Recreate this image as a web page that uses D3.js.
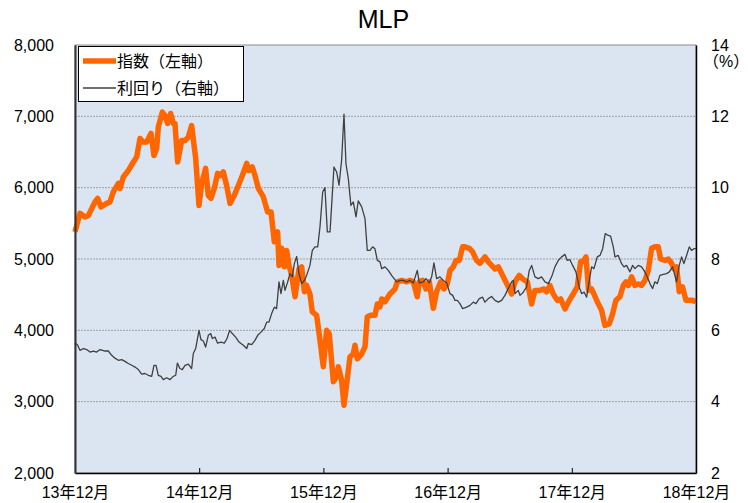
<!DOCTYPE html>
<html>
<head>
<meta charset="utf-8">
<script src="https://cdn.jsdelivr.net/npm/d3@7"></script>
<style>
body { margin: 0; background: #fff; }
text { font-family: "Liberation Sans", Arial, "Noto Sans CJK JP", sans-serif; fill: #000; }
</style>
</head>
<body>
<div id="chart"></div>
<script>
// 月数は13年12月からの経過月
var xTicks = [0, 12, 24, 36, 48, 60]
var xLabels = ['13年12月', '14年12月', '15年12月', '16年12月', '17年12月', '18年12月']
var leftTicks = [2000, 3000, 4000, 5000, 6000, 7000, 8000]
var rightTicks = [2, 4, 6, 8, 10, 12, 14]
var seriesNames = ['指数（左軸）', '利回り（右軸）']

// 指数（左軸）
var idxMonth = [0, 0.48, 0.97, 1.29, 1.93, 2.19, 2.51, 3.06, 3.38, 3.70, 4.19, 4.35, 4.67, 5.15, 5.64, 5.96,
	6.28, 6.60, 6.92, 7.34, 7.63, 7.89, 8.05, 8.44, 8.70, 8.95, 9.24, 9.50, 9.66, 9.92, 10.31, 10.63, 10.95,
	11.27, 11.66, 11.98, 12.24, 12.62, 12.88, 13.14, 13.46, 13.78, 14.01, 14.33, 14.65, 14.98, 15.39, 15.78,
	16.17, 16.59, 16.81, 17.13, 17.39, 17.71, 18.20, 18.61, 18.94, 19.26, 19.58, 19.71, 19.97, 20.22, 20.45,
	20.68, 20.93, 21.26, 21.64, 21.90, 22.16, 22.38, 22.70, 22.93, 23.35, 23.67, 23.99, 24.31, 24.57, 24.96,
	25.28, 25.44, 25.76, 25.99, 26.25, 26.57, 26.89, 27.05, 27.28, 27.70, 28.02, 28.24, 28.56, 28.98, 29.21,
	29.47, 29.63, 29.95, 30.43, 30.92, 31.14, 31.56, 32.04, 32.36, 32.69, 33.07, 33.27, 33.59, 33.91, 34.23,
	34.62, 34.94, 35.33, 35.65, 35.97, 36.23, 36.55, 36.81, 37.13, 37.45, 37.68, 38.10, 38.42, 38.80, 39.13,
	39.61, 39.93, 40.25, 40.58, 40.90, 41.38, 41.86, 42.19, 42.51, 42.93, 43.25, 43.70, 44.12, 44.44, 44.92,
	45.31, 45.57, 45.89, 46.21, 46.60, 46.92, 47.34, 47.76, 48.14, 48.53, 48.85, 49.17, 49.37, 49.62, 49.91,
	50.14, 50.46, 50.88, 51.20, 51.62, 51.94, 52.26, 52.65, 52.97, 53.23, 53.46, 53.78, 54.10, 54.42, 54.74,
	55.07, 55.39, 55.71, 56.03, 56.35, 56.58, 57.00, 57.32, 57.64, 57.87, 58.12, 58.38, 58.70, 59.03, 59.35,
	59.67, 59.99]
var idxValue = [5380, 5640, 5590, 5610, 5800, 5850, 5730, 5780, 5800, 5940, 6060, 5990, 6150, 6240, 6360, 6430,
	6690, 6640, 6640, 6760, 6450, 6550, 6850, 7060, 7010, 6900, 7040, 6900, 6900, 6360, 6660, 6660, 6710,
	6870, 6410, 5750, 6060, 6270, 5890, 5850, 5990, 6200, 6170, 6220, 6030, 5780, 5890, 6030,
	6170, 6340, 6240, 6290, 6170, 5990, 5870, 5660, 5660, 5240, 5380, 4910, 5150, 4890, 5120,
	4910, 4770, 4470, 4860, 4890, 4540, 4630, 4510, 4260, 4210, 3860, 3490, 4000, 3950, 3280,
	3350, 3490, 3300, 2950, 3250, 3630, 3670, 3790, 3600, 3670, 3770, 4190, 4210, 4210, 4370,
	4330, 4440, 4400, 4510, 4580, 4680, 4700, 4680, 4700, 4680, 4470, 4680, 4700, 4580, 4680,
	4310, 4540, 4680, 4580, 4650, 4840, 4890, 4980, 4980, 5170, 5170, 5150, 5100, 4980, 4940,
	5030, 4960, 4910, 4860, 4890, 4750, 4610, 4510, 4680, 4770, 4720, 4680, 4370, 4560, 4560,
	4580, 4540, 4630, 4510, 4420, 4440, 4300, 4420, 4510, 4610, 4960, 4980, 5030, 4560, 4580,
	4510, 4400, 4280, 4070, 4090, 4230, 4420, 4470, 4630, 4680, 4630, 4750, 4630, 4650, 4630,
	4700, 4840, 5150, 5170, 5170, 5000, 4980, 5000, 4940, 4860, 4890, 4540, 4610, 4420, 4420,
	4420, 4400]

// 利回り（右軸）
var yldMonth = [0, 0.26, 0.48, 0.81, 1.13, 1.45, 1.77, 2.09, 2.42, 2.90, 3.22, 3.54, 3.86, 4.19, 4.51, 4.83,
	5.15, 5.48, 5.80, 6.12, 6.44, 6.76, 7.09, 7.41, 7.63, 7.83, 8.05, 8.31, 8.53, 8.86, 9.18, 9.50, 9.73,
	9.89, 10.14, 10.37, 10.63, 10.95, 11.27, 11.43, 11.66, 11.98, 12.17, 12.40, 12.62, 12.88, 13.11, 13.27,
	13.53, 13.78, 14.11, 14.43, 14.69, 14.94, 15.20, 15.52, 15.85, 16.26, 16.59, 16.75, 17.07, 17.39, 17.65,
	17.97, 18.29, 18.52, 18.74, 19.00, 19.26, 19.48, 19.71, 19.90, 20.13, 20.29, 20.55, 20.77, 21.00, 21.19,
	21.42, 21.64, 21.90, 22.16, 22.38, 22.70, 22.93, 23.19, 23.45, 23.67, 23.93, 24.15, 24.38, 24.64, 25.02,
	25.28, 25.51, 25.76, 25.99, 26.18, 26.41, 26.66, 26.89, 27.15, 27.37, 27.70, 28.02, 28.24, 28.50, 28.76,
	28.98, 29.21, 29.47, 29.63, 29.95, 30.27, 30.59, 31.08, 31.40, 31.72, 32.04, 32.36, 32.69, 33.07, 33.27,
	33.65, 33.91, 34.23, 34.46, 34.68, 34.94, 35.26, 35.58, 35.91, 36.23, 36.49, 36.71, 36.94, 37.19, 37.45,
	37.84, 38.16, 38.48, 38.74, 39.06, 39.38, 39.61, 39.93, 40.25, 40.58, 40.90, 41.22, 41.54, 41.86, 42.19,
	42.35, 42.51, 42.83, 42.99, 43.31, 43.63, 43.89, 44.12, 44.44, 44.76, 45.08, 45.41, 45.73, 46.05, 46.37,
	46.69, 47.02, 47.34, 47.56, 47.82, 48.08, 48.40, 48.72, 48.95, 49.20, 49.43, 49.69, 49.91, 50.14, 50.46,
	50.72, 50.98, 51.23, 51.52, 51.75, 52.01, 52.17, 52.49, 52.81, 53.04, 53.29, 53.62, 53.87, 54.10, 54.42,
	54.74, 54.97, 55.23, 55.55, 55.81, 56.03, 56.26, 56.51, 56.84, 57.16, 57.42, 57.74, 57.96, 58.12, 58.38,
	58.61, 58.83, 59.09, 59.35, 59.57, 59.80, 59.99]
var yldValue = [5.65, 5.58, 5.44, 5.49, 5.46, 5.39, 5.42, 5.39, 5.46, 5.42, 5.42, 5.30, 5.22, 5.16, 5.18, 5.13,
	5.07, 5.02, 4.97, 4.90, 4.77, 4.79, 4.74, 4.71, 5.02, 5.02, 4.74, 4.71, 4.62, 4.67, 4.62, 4.71, 4.74,
	5.08, 4.93, 4.90, 5.02, 5.05, 4.93, 5.35, 5.49, 6.00, 5.74, 5.70, 5.53, 5.86, 5.91, 5.77,
	5.81, 5.64, 5.67, 5.64, 5.77, 6.00, 5.91, 5.81, 5.67, 5.58, 5.49, 5.63, 5.60, 5.72, 5.86,
	5.95, 6.05, 6.23, 6.23, 6.47, 6.65, 6.61, 7.36, 7.03, 7.40, 7.12, 7.36, 7.59, 7.50, 7.87,
	8.07, 7.59, 7.31, 7.40, 7.54, 7.82, 8.24, 8.34, 8.34, 8.90, 9.88, 10.00, 8.76, 8.76, 10.58,
	10.44, 10.07, 10.77, 12.06, 10.67, 10.25, 9.50, 9.60, 9.18, 9.63, 9.46, 9.13, 8.24, 8.24, 8.34,
	8.29, 7.96, 7.92, 7.73, 7.78, 7.68, 7.54, 7.36, 7.40, 7.40, 7.36, 7.40, 7.33, 7.68, 7.33,
	7.36, 7.45, 7.33, 7.50, 7.89, 7.45, 7.50, 7.40, 7.33, 7.03, 6.98, 6.84, 6.84, 6.75, 6.61,
	6.65, 6.70, 6.79, 6.75, 6.89, 6.93, 6.79, 6.89, 6.95, 6.84, 6.79, 6.84, 6.98, 7.17, 7.36,
	7.40, 7.03, 7.12, 6.98, 7.07, 7.21, 7.68, 7.82, 7.50, 7.45, 7.50, 7.36, 7.31, 7.50, 7.78,
	7.96, 8.06, 8.13, 7.96, 7.98, 7.82, 7.64, 7.21, 7.03, 7.07, 6.93, 7.40, 7.78, 7.73, 8.06,
	8.10, 8.29, 8.71, 8.66, 8.64, 8.34, 8.06, 8.10, 7.87, 7.78, 7.82, 7.64, 7.82, 7.73, 7.82,
	7.78, 7.68, 7.54, 7.31, 7.17, 7.36, 7.31, 7.54, 7.57, 7.59, 7.64, 7.78, 7.54, 7.36, 7.82,
	8.06, 7.87, 8.10, 8.34, 8.24, 8.29, 8.29]

var width = 748
var height = 503
var plotL = 75, plotR = 696, plotT = 45, plotB = 473

var svg = d3.select('#chart')
	.append('svg')
		.attr('width', width)
		.attr('height', height)

var x = d3.scaleLinear().domain([0, 60]).range([plotL, plotR])
var yL = d3.scaleLinear().domain([2000, 8000]).range([plotB, plotT])
var yR = d3.scaleLinear().domain([2, 14]).range([plotB, plotT])

// plot area
svg.append('rect')
	.attr('x', plotL).attr('y', plotT)
	.attr('width', plotR - plotL).attr('height', plotB - plotT)
	.attr('fill', '#dbe5f1')
	.attr('stroke', '#8c8c8c')
	.attr('stroke-width', 1)

svg.selectAll('line.grid')
	.data(leftTicks.slice(1, -1))
	.enter().append('line')
		.attr('class', 'grid')
		.attr('x1', plotL).attr('x2', plotR)
		.attr('y1', function(d) { return yL(d) })
		.attr('y2', function(d) { return yL(d) })
		.attr('stroke', '#a0a0a0')
		.attr('stroke-dasharray', '2,1')

var idxData = idxMonth.map(function(m, i) { return [m, idxValue[i]] })
var yldData = yldMonth.map(function(m, i) { return [m, yldValue[i]] })

svg.append('path')
	.datum(idxData)
	.attr('fill', 'none')
	.attr('stroke', '#ff6600')
	.attr('stroke-width', 5.5)
	.attr('stroke-linejoin', 'round')
	.attr('d', d3.line().x(function(d) { return x(d[0]) }).y(function(d) { return yL(d[1]) }))

svg.append('path')
	.datum(yldData)
	.attr('fill', 'none')
	.attr('stroke', '#404040')
	.attr('stroke-width', 1.3)
	.attr('stroke-linejoin', 'round')
	.attr('d', d3.line().x(function(d) { return x(d[0]) }).y(function(d) { return yR(d[1]) }))

// axes
var xAxis = svg.append('g')
	.attr('transform', 'translate(0,' + plotB + ')')
	.call(d3.axisBottom(x).tickValues(xTicks)
		.tickFormat(function(d, i) { return xLabels[i] })
		.tickSizeInner(-5).tickSizeOuter(0).tickPadding(14))
xAxis.select('.domain').attr('stroke', '#000').attr('stroke-width', 1.5)
xAxis.selectAll('.tick line').attr('stroke', '#000')
xAxis.selectAll('text').style('font-size', '16px')

var lAxis = svg.append('g')
	.attr('transform', 'translate(' + plotL + ',0)')
	.call(d3.axisLeft(yL).tickValues(leftTicks).tickFormat(d3.format(','))
		.tickSize(0).tickPadding(21))
lAxis.select('.domain').attr('stroke', '#333').attr('stroke-width', 2)
lAxis.selectAll('text').style('font-size', '16px')

var rAxis = svg.append('g')
	.attr('transform', 'translate(' + plotR + ',0)')
	.call(d3.axisRight(yR).tickValues(rightTicks).tickSize(0).tickPadding(15))
rAxis.select('.domain').attr('stroke', '#000').attr('stroke-width', 1.5)
rAxis.selectAll('text').style('font-size', '16px')

svg.append('text')
	.attr('x', 703).attr('y', 67)
	.style('font-size', '16px')
	.text('（%）')

svg.append('text')
	.attr('x', (plotL + plotR) / 2 - 2).attr('y', 28)
	.attr('text-anchor', 'middle')
	.style('font-size', '25px')
	.text('MLP')

// legend
var legend = svg.append('g')
legend.append('rect')
	.attr('x', 78.5).attr('y', 46.5)
	.attr('width', 165).attr('height', 55)
	.attr('fill', '#fff').attr('stroke', '#000')

var legendStyle = [{ color: '#ff6600', w: 5.5 }, { color: '#404040', w: 1.3 }]
legend.selectAll('line.key')
	.data(seriesNames)
	.enter().append('line')
		.attr('x1', 83).attr('x2', 116)
		.attr('y1', function(d, i) { return 61 + i * 27 })
		.attr('y2', function(d, i) { return 61 + i * 27 })
		.attr('stroke', function(d, i) { return legendStyle[i].color })
		.attr('stroke-width', function(d, i) { return legendStyle[i].w })
legend.selectAll('text.key')
	.data(seriesNames)
	.enter().append('text')
		.attr('x', 117)
		.attr('y', function(d, i) { return 67 + i * 27 })
		.style('font-size', '16px')
		.text(function(d) { return d })
</script>
</body>
</html>
